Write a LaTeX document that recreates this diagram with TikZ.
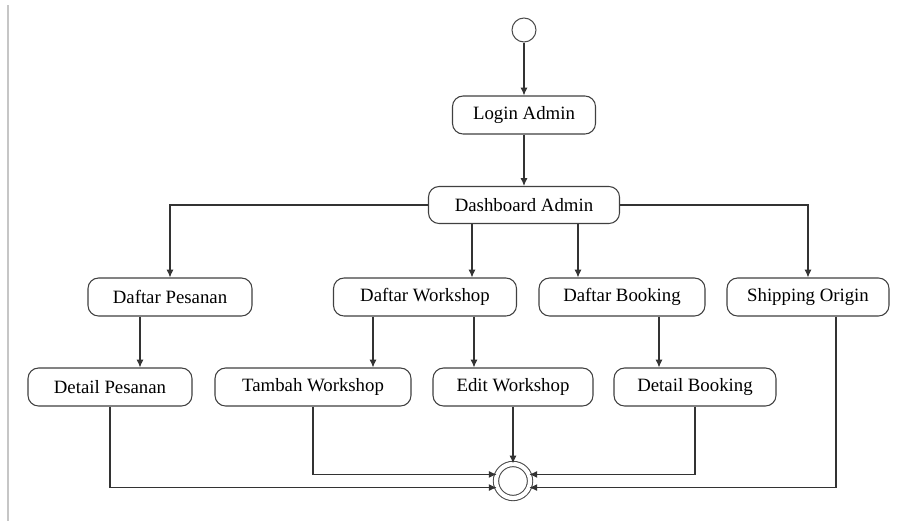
\documentclass[tikz,border=0pt]{standalone}
\usepackage{fontspec}
\setmainfont{Liberation Serif}
\usepackage{tikz}
\usetikzlibrary{arrows.meta, positioning, shapes, calc}

\begin{document}
\begin{tikzpicture}[
        activity/.style={draw=black!75, semithick, rectangle, rounded corners=6pt, fill=white, minimum height=0.76cm, align=center, font=\fontsize{10.7}{13}\selectfont},
        arrow/.style={-{Latex[length=4.5pt, width=4pt]}, semithick, draw=black!80}]

        \useasboundingbox (0,0) rectangle (17.98,-10.42);
        \draw[gray!45, line width=1.2pt] (0.16,-0.1) -- (0.16,-10.42);

        % Start
        \node[draw=black!70, semithick, circle, minimum size=0.48cm, inner sep=0pt] (start) at (10.48,-0.60) {};

        % Login and dashboard
        \node[activity, minimum width=2.86cm] (login) at (10.48,-2.30) {Login Admin};
        \node[activity, minimum width=3.82cm, minimum height=0.74cm] (dash) at (10.48,-4.10) {Dashboard Admin};

        % Menu row
        \node[activity, minimum width=3.28cm] (pes) at (3.40,-5.94) {Daftar Pesanan};
        \node[activity, minimum width=3.66cm] (work) at (8.50,-5.94) {Daftar Workshop};
        \node[activity, minimum width=3.32cm] (book) at (12.44,-5.94) {Daftar Booking};
        \node[activity, minimum width=3.24cm] (ship) at (16.16,-5.94) {Shipping Origin};

        % Detail row
        \node[activity, minimum width=3.28cm] (detpes) at (2.20,-7.74) {Detail Pesanan};
        \node[activity, minimum width=3.92cm] (tambah) at (6.26,-7.74) {Tambah Workshop};
        \node[activity, minimum width=3.20cm] (edit) at (10.26,-7.74) {Edit Workshop};
        \node[activity, minimum width=3.24cm] (detbook) at (13.90,-7.74) {Detail Booking};

        % End
        \node[draw=black!70, semithick, circle, double, double distance=2.4pt, minimum size=0.68cm, inner sep=0pt] (end) at (10.26,-9.62) {};

        % Arrows
        \draw[arrow] (start) -- (login);
        \draw[arrow] (login) -- (dash);
        \draw[arrow] (dash.west) -| (pes.north);
        \draw[arrow] ([xshift=-1.04cm]dash.south) -- ([xshift=-1.04cm]dash.south |- work.north);
        \draw[arrow] ([xshift=1.08cm]dash.south) -- ([xshift=1.08cm]dash.south |- book.north);
        \draw[arrow] (dash.east) -| (ship.north);

        \draw[arrow] ([xshift=-0.6cm]pes.south) -- ([xshift=-0.6cm]pes.south |- detpes.north);
        \draw[arrow] ([xshift=-1.04cm]work.south) -- ([xshift=-1.04cm]work.south |- tambah.north);
        \draw[arrow] ([xshift=0.98cm]work.south) -- ([xshift=0.98cm]work.south |- edit.north);
        \draw[arrow] ([xshift=0.74cm]book.south) -- ([xshift=0.74cm]book.south |- detbook.north);

        \draw[arrow] (edit) -- (end);
        \draw[arrow] (tambah.south) |- (end.158);
        \draw[arrow] (detpes.south) |- (end.202);
        \draw[arrow] (detbook.south) |- (end.22);
        \draw[arrow] ([xshift=0.56cm]ship.south) |- (end.-22);

    \end{tikzpicture}
\end{document}
